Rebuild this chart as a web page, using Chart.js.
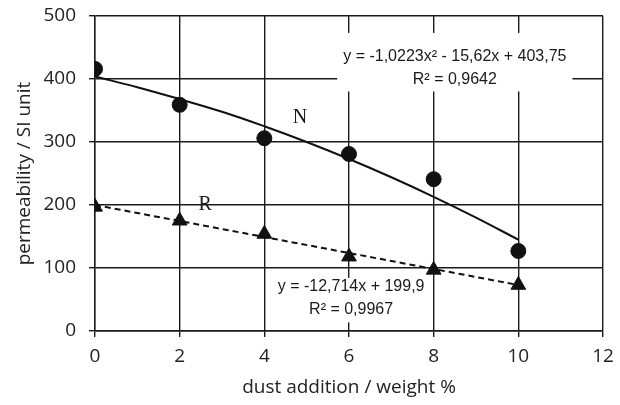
<!DOCTYPE html>
<html>
<head>
<meta charset="utf-8">
<script src="https://cdn.jsdelivr.net/npm/chart.js@4"></script>
<style>
  html, body { margin: 0; padding: 0; background: #fff; }
  #wrap { width: 620px; height: 405px; }
</style>
</head>
<body>
<div id="wrap"><canvas id="perm" width="620" height="405"></canvas></div>
<script>
// measured points
const dustX = [0, 2, 4, 6, 8, 10];
const permN = [416, 359, 306, 281, 241, 127];
const permR = [197, 175, 154, 118, 97, 73];

// trend lines
const trendNX = [0, 1, 2, 3, 4, 5, 6, 7, 8, 9, 10];
const trendNY = [404, 387, 368, 348, 325, 300, 273, 244, 213, 180, 145];
const trendRX = [0, 10];
const trendRY = [200, 73];

const xTicks = [0, 2, 4, 6, 8, 10, 12];
const yTicks = [0, 100, 200, 300, 400, 500];

function pts(xs, ys){
    return xs.map((x, i) => ({x: x, y: ys[i]}));
}

// text labels placed in data coordinates, box pads in px
const notes = [
    {x: 8.5, y: 435, lines: ["y = -1,0223x\u00b2 - 15,62x + 403,75", "R\u00b2 = 0,9642"], box: [24, 12]},
    {x: 6.05, y: 70, lines: ["y = -12,714x + 199,9", "R\u00b2 = 0,9967"], box: [9, 13]},
    {x: 4.84, y: 338, lines: ["N"], serif: true},
    {x: 2.6, y: 200, lines: ["R"], serif: true}
];

const notePlugin = {
    id: "notes",
    afterDatasetsDraw(chart){
        const c = chart.ctx;
        const xs = chart.scales.x, ys = chart.scales.y;
        c.save();
        notes.forEach(n => {
            const px = xs.getPixelForValue(n.x);
            const py = ys.getPixelForValue(n.y);
            c.font = n.serif ? "20px 'Liberation Serif'" : "16px 'Liberation Sans'";
            c.textAlign = "center";
            c.textBaseline = "middle";
            const lh = 22.5;
            if(n.box){
                let w = 0;
                n.lines.forEach(l => { w = Math.max(w, c.measureText(l).width); });
                const top = py - n.box[0];
                const bot = py + lh*(n.lines.length - 1) + n.box[1];
                c.fillStyle = "#fff";
                c.fillRect(px - w/2 - 6, top, w + 12, bot - top);
            }
            c.fillStyle = "#1a1a1a";
            n.lines.forEach((l, i) => c.fillText(l, px, py + i*lh));
        });
        c.restore();
    }
};

const tickFont = {family: "'Open Sans'", size: 19};

new Chart(document.getElementById("perm"), {
    type: "scatter",
    data: {
        datasets: [{
            label: "N trend",
            data: pts(trendNX, trendNY),
            showLine: true,
            borderColor: "#111",
            borderWidth: 2,
            pointRadius: 0,
            tension: 0.4,
            order: 2
        },{
            label: "R trend",
            data: pts(trendRX, trendRY),
            showLine: true,
            borderColor: "#111",
            borderWidth: 2,
            borderDash: [6, 4],
            pointRadius: 0,
            order: 2
        },{
            label: "N",
            data: pts(dustX, permN),
            pointStyle: "circle",
            pointRadius: 7.5,
            backgroundColor: "#111",
            borderColor: "#111",
            order: 1
        },{
            label: "R",
            data: pts(dustX, permR),
            pointStyle: "triangle",
            pointRadius: 8.5,
            backgroundColor: "#111",
            borderColor: "#111",
            order: 1
        }]
    },
    options: {
        responsive: false,
        animation: false,
        layout: {padding: {left: 0, right: 17, top: 16, bottom: 0}},
        plugins: {
            legend: {display: false},
            tooltip: {enabled: false}
        },
        scales: {
            x: {
                type: "linear",
                min: 0, max: 12,
                afterBuildTicks: axis => { axis.ticks = xTicks.map(v => ({value: v})); },
                afterFit: axis => { axis.height = 74; axis.paddingLeft = 0; axis.paddingRight = 0; },
                grid: {color: "#1a1a1a", lineWidth: 1.4, tickLength: 6},
                border: {color: "#1a1a1a", width: 1.4},
                ticks: {color: "#222", font: tickFont, padding: 8, maxRotation: 0},
                title: {display: true, text: "dust addition / weight %", color: "#222",
                        font: tickFont, padding: {top: 0, bottom: 6}}
            },
            y: {
                min: 0, max: 500,
                afterBuildTicks: axis => { axis.ticks = yTicks.map(v => ({value: v})); },
                afterFit: axis => { axis.width = 95; axis.paddingTop = 0; axis.paddingBottom = 0; },
                grid: {color: "#1a1a1a", lineWidth: 1.4, tickLength: 6},
                border: {color: "#1a1a1a", width: 1.4},
                ticks: {color: "#222", font: tickFont, padding: 13},
                title: {display: true, text: "permeability / SI unit", color: "#222",
                        font: tickFont, padding: {top: 13, bottom: 0}}
            }
        }
    },
    plugins: [notePlugin]
});
</script>
</body>
</html>
